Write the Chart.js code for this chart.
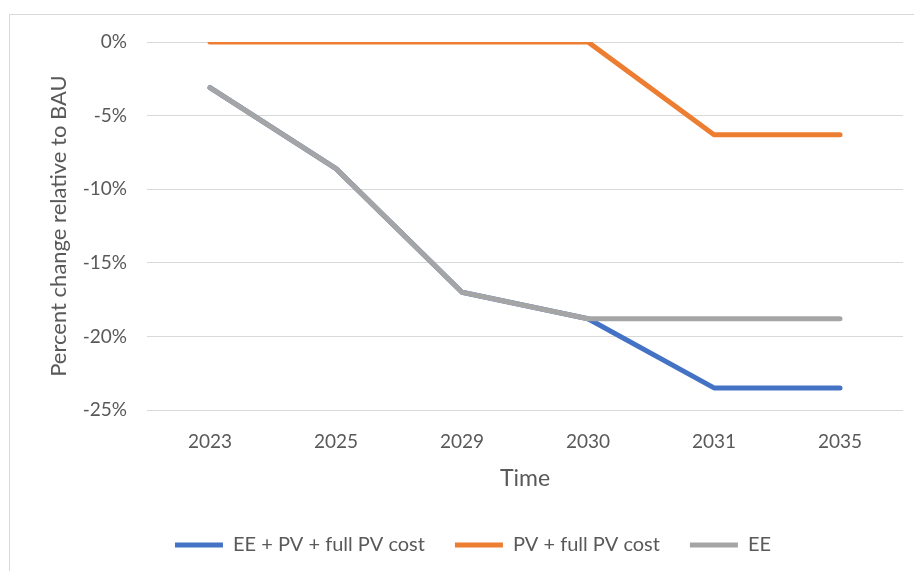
<!DOCTYPE html>
<html>
<head>
<meta charset="utf-8">
<script src="https://cdn.jsdelivr.net/npm/chart.js@4.4.1/dist/chart.umd.min.js"></script>
<style>
  html, body { margin: 0; padding: 0; background: #fff; overflow: hidden; }
  #frame {
    position: absolute; left: 9px; top: 14px;
    width: 926px; height: 570px;
    border: 1px solid #d9d9d9;
  }
  canvas { display: block; }
</style>
</head>
<body>
<div id="frame"><canvas id="chart" width="926" height="556"></canvas></div>
<script>
// categories on the x axis
const years = ['2023', '2025', '2029', '2030', '2031', '2035'];

// percent change relative to BAU
const eePvFullCost = [-3.1, -8.6, -17.0, -18.8, -23.5, -23.5];
const pvFullCost = [0, 0, 0, 0, -6.3, -6.3];
const eeOnly = [-3.1, -8.6, -17.0, -18.8, -18.8, -18.8];

const yTicks = { min: -25, max: 0, step: 5 };

const FONT = 'Lato, "Open Sans", sans-serif';
const TEXT = '#595959';

function series(label, data, color, order) {
    return {
        label: label,
        data: data,
        borderColor: color,
        backgroundColor: color,
        borderWidth: 5,
        borderCapStyle: 'round',
        borderJoinStyle: 'round',
        pointRadius: 0,
        pointHoverRadius: 0,
        tension: 0,
        fill: false,
        order: order,
    };
}

const ctx = document.getElementById('chart').getContext('2d');
new Chart(ctx, {
    type: 'line',
    data: {
        labels: years,
        datasets: [
            series('EE + PV + full PV cost', eePvFullCost, '#4472C4', 2),
            series('PV + full PV cost', pvFullCost, '#ED7D31', 1),
            series('EE', eeOnly, '#A5A5A5', 0),
        ],
    },
    options: {
        responsive: false,
        animation: false,
        layout: {
            padding: { top: 27, left: 33, right: 33, bottom: 6 },
        },
        scales: {
            x: {
                offset: true,
                grid: { display: false, drawTicks: false },
                border: { display: false },
                ticks: {
                    padding: 20,
                    color: TEXT,
                    font: { family: FONT, size: 19 },
                },
                title: {
                    display: true,
                    text: 'Time',
                    color: TEXT,
                    font: { family: FONT, size: 23 },
                    padding: { top: 4, bottom: 13 },
                },
                afterFit: (scale) => { scale.height = 95; },
            },
            y: {
                min: yTicks.min,
                max: yTicks.max,
                grid: { color: '#d9d9d9', lineWidth: 1, drawTicks: false },
                border: { display: false },
                ticks: {
                    stepSize: yTicks.step,
                    padding: 20,
                    color: TEXT,
                    font: { family: FONT, size: 19 },
                    callback: (v) => v + '%',
                },
                title: {
                    display: true,
                    text: 'Percent change relative to BAU',
                    color: TEXT,
                    font: { family: FONT, size: 22 },
                    padding: { top: 3, bottom: 0 },
                },
                afterFit: (scale) => {
                    scale.width = 104;
                    // tick padding would otherwise push the plot area down
                    scale.paddingTop = 0;
                    scale.paddingBottom = 0;
                },
            },
        },
        plugins: {
            legend: {
                position: 'bottom',
                labels: {
                    sort: (a, b) => a.datasetIndex - b.datasetIndex,
                    usePointStyle: true,
                    pointStyle: 'line',
                    pointStyleWidth: 48,
                    padding: 30,
                    color: TEXT,
                    font: { family: FONT, size: 20 },
                },
            },
            tooltip: { enabled: false },
        },
    },
});
</script>
</body>
</html>
